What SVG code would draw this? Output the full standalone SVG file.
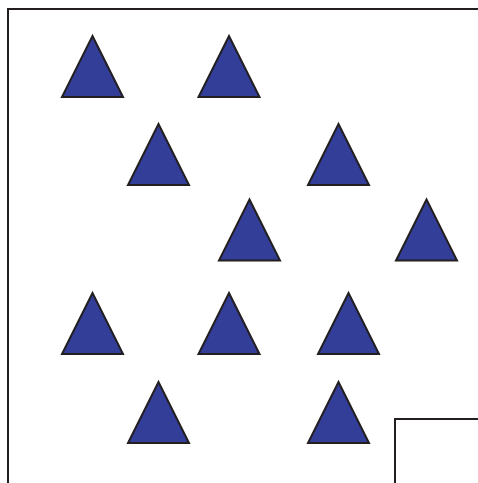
<svg xmlns="http://www.w3.org/2000/svg" width="478" height="483" viewBox="0 0 478 483">
<defs>
<style>
.tri{fill:#323e98;stroke:#231f20;stroke-width:2;stroke-linejoin:miter}
.frame{fill:none;stroke:#231f20;stroke-width:2}
</style>
<polygon id="t" class="tri" points="0,0 30.5,61 -30.5,61"/>
</defs>
<rect width="478" height="483" fill="#fff"/>
<g id="frame">
<path class="frame" d="M8,483 V9 H478"/>
<path class="frame" d="M395,483 V419 H478"/>
</g>
<g id="connectors"/>
<g id="tri1"><use href="#t" x="92.5" y="36"/></g>
<g id="tri2"><use href="#t" x="229" y="36"/></g>
<g id="tri3"><use href="#t" x="158.5" y="124"/></g>
<g id="tri4"><use href="#t" x="338.5" y="124"/></g>
<g id="tri5"><use href="#t" x="249.5" y="199.5"/></g>
<g id="tri6"><use href="#t" x="426.5" y="199.5"/></g>
<g id="tri7"><use href="#t" x="92.5" y="293"/></g>
<g id="tri8"><use href="#t" x="229" y="293"/></g>
<g id="tri9"><use href="#t" x="348.5" y="293"/></g>
<g id="tri10"><use href="#t" x="158.5" y="382"/></g>
<g id="tri11"><use href="#t" x="338.5" y="382"/></g>
</svg>
